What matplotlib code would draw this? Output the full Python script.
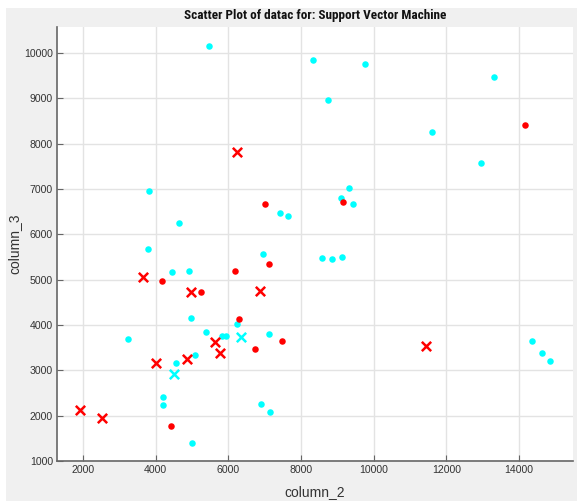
import matplotlib
matplotlib.use("Agg")
import matplotlib.pyplot as plt
from matplotlib.patches import Rectangle
from matplotlib import font_manager

# ---- data ----
cyan_dot_x = [5468, 8339, 3808, 4642, 7422, 7651, 3789, 9762, 13313, 8753, 11597,
              12955, 9331, 9101, 9432, 6946, 4450, 4909, 4973, 6230, 3239, 5377,
              5817, 5928, 7120, 5092, 4560, 4211, 4211, 5009, 6891, 7139,
              8587, 8854, 9121, 14368, 14634, 14863]
cyan_dot_y = [10155, 9846, 6949, 6257, 6478, 6398, 5670, 9765, 9471, 8957, 8265,
              7567, 7015, 6809, 6663, 5559, 5163, 5199, 4161, 4015, 3691, 3853,
              3750, 3750, 3794, 3346, 3162, 2419, 2228, 1397, 2264, 2081,
              5471, 5449, 5494, 3654, 3389, 3212]

red_dot_x = [7001, 14157, 9165, 7120, 4165, 5257, 6184, 6294, 7469, 6734, 4422]
red_dot_y = [6663, 8405, 6706, 5353, 4964, 4735, 5185, 4133, 3654, 3471, 1765]

red_x_x = [6230, 3652, 4973, 6872, 5625, 5780, 4018, 4863, 1926, 2514, 11433]
red_x_y = [7817, 5059, 4728, 4750, 3625, 3383, 3169, 3250, 2125, 1955, 3530]

cyan_x_x = [6358, 4514]
cyan_x_y = [3735, 2912]

x_ticks = [2000, 4000, 6000, 8000, 10000, 12000, 14000]
y_ticks = [1000, 2000, 3000, 4000, 5000, 6000, 7000, 8000, 9000, 10000]

title = "Scatter Plot of datac for: Support Vector Machine"
xlabel = "column_2"
ylabel = "column_3"

# ---- fonts ----
avail = {f.name for f in font_manager.fontManager.ttflist}
narrow = None
for cand in ["Liberation Sans Narrow", "Roboto Condensed", "Open Sans Condensed",
             "Arial Narrow", "DejaVu Sans Condensed"]:
    if cand in avail:
        narrow = cand
        break
base = "Liberation Sans"
plt.rcParams["font.family"] = [base, "DejaVu Sans"]
title_family = [narrow, "DejaVu Sans"] if narrow else [base, "DejaVu Sans"]
title_size = 9.5 if narrow else 9.3

W, H = 577, 501
fig = plt.figure(figsize=(W / 100, H / 100), dpi=100)
fig.patch.set_facecolor("white")
fig.patches.append(Rectangle((6 / W, 0), 1 - 6 / W, (H - 8) / H,
                             transform=fig.transFigure, facecolor="#f0f0f0",
                             edgecolor="none", zorder=-10))

ax = fig.add_axes([57 / W, (H - 461) / H, (573 - 57) / W, (461 - 27) / H])
ax.set_facecolor("white")

ax.scatter(cyan_dot_x, cyan_dot_y, s=22, c="#00ffff", marker="o", linewidths=0, zorder=3)
ax.scatter(red_dot_x, red_dot_y, s=22, c="#ff0000", marker="o", linewidths=0, zorder=3)
ax.scatter(red_x_x, red_x_y, s=45, c="#ff0000", marker="x", linewidths=1.8, zorder=3)
ax.scatter(cyan_x_x, cyan_x_y, s=45, c="#00ffff", marker="x", linewidths=1.8, zorder=3)

ax.set_xlim(1285, 15490)
ax.set_ylim(1000, 10575)
ax.set_xticks(x_ticks)
ax.set_yticks(y_ticks)
ax.set_xticklabels([str(v) for v in x_ticks])
ax.set_yticklabels([str(v) for v in y_ticks])

ax.grid(True, color="#e3e3e3", linewidth=1.0, zorder=0)
ax.set_axisbelow(True)
for s in ["top", "right"]:
    ax.spines[s].set_visible(False)
for s in ["left", "bottom"]:
    ax.spines[s].set_color("#666666")
    ax.spines[s].set_linewidth(1.2)
ax.tick_params(direction="in", length=4, width=0.8, color="#666666",
               labelsize=7.6, labelcolor="#333333", pad=3)

ax.set_title(title, fontsize=title_size, fontweight="bold", color="#111111", pad=6,
             family=title_family)
ax.set_xlabel(xlabel, fontsize=10, color="#333333", labelpad=7)
ax.set_ylabel(ylabel, fontsize=10, color="#333333", labelpad=2)

fig.savefig("out.png", dpi=100, facecolor=fig.get_facecolor())
